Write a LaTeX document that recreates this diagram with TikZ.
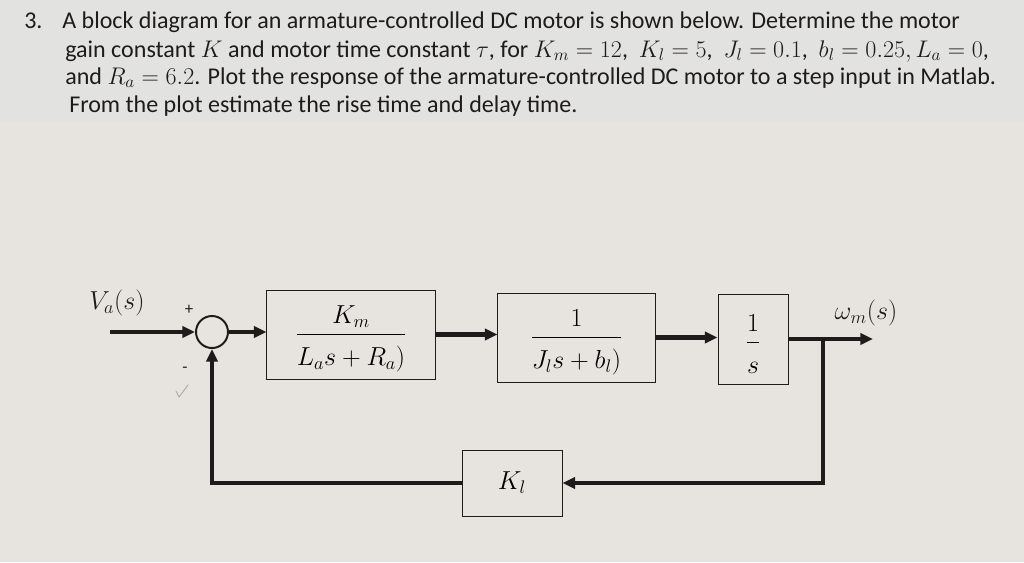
\RequirePackage{fix-cm}
\documentclass[tikz,border=0pt]{standalone}
\usepackage{amsmath}
\usepackage{fontspec}
\setmainfont{Carlito}
\usetikzlibrary{arrows.meta}

\definecolor{paper}{RGB}{231,228,223}
\definecolor{paperTop}{RGB}{226,226,225}
\definecolor{ink}{RGB}{30,28,27}

\tikzset{
  block/.style={draw=ink, line width=0.7pt, inner sep=0pt, font=\fontsize{18.5}{22}\selectfont},
  sumnode/.style={draw=ink, circle, line width=1.4pt, minimum size=0.8cm, inner sep=0pt},
  signal/.style={draw=ink, line width=3pt, -{Triangle[length=9pt,width=8pt]}},
  mathlabel/.style={font=\fontsize{18.5}{22}\selectfont, text=ink},
  signlabel/.style={font=\fontsize{12}{14}\selectfont, text=ink},
  taskline/.style={anchor=base west, inner sep=0pt, text=ink, font=\fontsize{17.1}{20}\selectfont}
}

\begin{document}
\begin{tikzpicture}[x=0.025cm, y=-0.025cm]
    \useasboundingbox (0,0) rectangle (1024,562);
    %paper
    \fill[paper] (0,0) rectangle (1024,562);
    \fill[paperTop] (0,0) rectangle (1024,122);

    %problem text
    \node[taskline] (num) at (24,28) {3.};
    \node[taskline] (line1) at (62,28) {A block diagram for an armature-controlled DC motor is shown below. Determine the motor};
    \node[taskline] (line2) at (65,57) {gain constant $K$ and motor time constant $\tau$, for $K_m = 12$,\ \ $K_l = 5$,\ \ $J_l = 0.1$,\ \ $b_l = 0.25, L_a = 0$,};
    \node[taskline] (line3) at (65,84) {and $R_a = 6.2$. Plot the response of the armature-controlled DC motor to a step input in Matlab.};
    \node[taskline] (line4) at (69,112) {From the plot estimate the rise time and delay time.};

    %blocks
    \node[sumnode] (sum) at (212,332) {};
    \node[block, minimum width=4.2cm, minimum height=2.225cm] (motor) at (351,334.5)
        {$\dfrac{\rule{0pt}{19pt}K_m}{\rule{0pt}{20pt}L_a s + R_a)}$};
    \node[block, minimum width=3.925cm, minimum height=2.225cm] (load) at (576.5,337.5)
        {$\dfrac{\rule{0pt}{19pt}1}{\rule{0pt}{20pt}J_l s + b_l)}$};
    \node[block, minimum width=1.75cm, minimum height=2.25cm] (integ) at (753,339)
        {$\dfrac{\rule{0pt}{19pt}1}{\rule{0pt}{20pt}s}$};
    \node[block, minimum width=2.5cm, minimum height=1.65cm] (gain) at (512,483) {$K_l$};

    %labels
    \node[mathlabel] (vin) at (117,303) {$V_a(s)$};
    \node[mathlabel] (wout) at (866,313) {$\omega_m(s)$};
    \node[signlabel] (plus) at (189,310) {+};
    \node[signlabel] (minus) at (185,370) {-};

    %signals
    \coordinate (in) at (110,332);
    \coordinate (out) at (873,339);
    \coordinate (branch) at (823,339);
    \draw[signal] (in) -- (sum.west);
    \draw[signal] (sum.east) -- (sum.east -| motor.west);
    \draw[signal] (motor.east) -- (motor.east -| load.west);
    \draw[signal] (load.east) -- (load.east -| integ.west);
    \draw[signal] (integ.east) -- (out);
    \draw[signal] (branch) |- (gain.east);
    \draw[signal] (gain.west) -| (sum.south);

    %pencil mark
    \draw[gray!70, line width=0.6pt, line cap=round] (176,391) -- (179,397) -- (188,385);
\end{tikzpicture}
\end{document}
